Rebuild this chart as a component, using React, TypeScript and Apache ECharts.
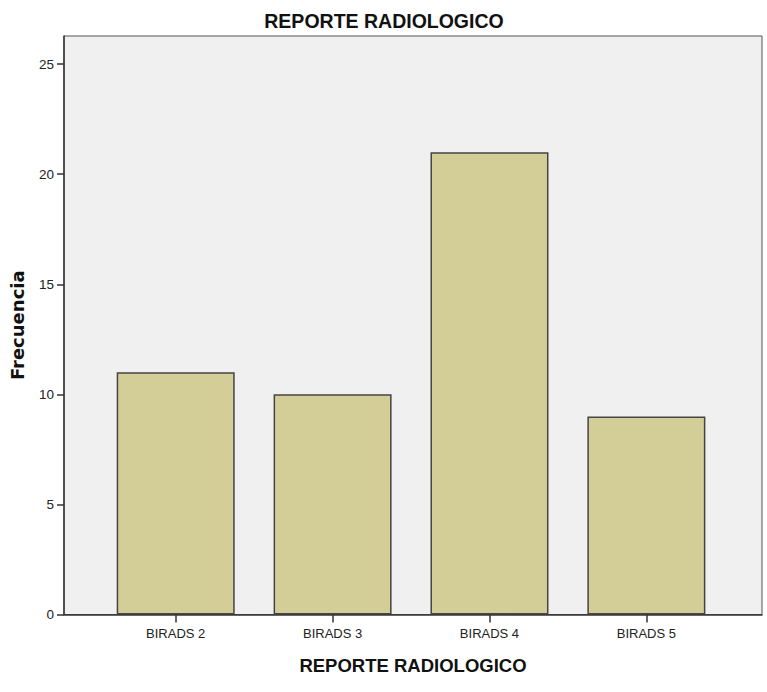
import React, { useEffect, useRef } from "react";
import * as echarts from "echarts";

const categories = ["BIRADS 2", "BIRADS 3", "BIRADS 4", "BIRADS 5"];
const frequencies = [11, 10, 21, 9];
const yTickValues = [0, 5, 10, 15, 20, 25];
const chartTitle = "REPORTE RADIOLOGICO";
const xAxisTitle = "REPORTE RADIOLOGICO";
const yAxisTitle = "Frecuencia";

export default function App() {
  const ref = useRef<HTMLDivElement>(null);

  useEffect(() => {
    if (!ref.current) return;
    const chart = echarts.init(ref.current, undefined, { renderer: "svg" });
    const positions = categories.map((_, i) => i);

    chart.setOption({
      animation: false,
      backgroundColor: "#ffffff",
      title: {
        text: chartTitle,
        left: 379,
        top: 6,
        textAlign: "center",
        textStyle: {
          fontFamily: "Liberation Sans, Arial",
          fontWeight: "bold",
          fontSize: 19.5,
          color: "#111111",
        },
      },
      grid: {
        left: 61,
        right: 5,
        top: 36,
        bottom: 77.5,
        show: true,
        backgroundColor: "#f0f0f0",
        borderColor: "#555555",
        borderWidth: 1,
      },
      xAxis: {
        type: "value",
        min: -0.712,
        max: 3.737,
        name: xAxisTitle,
        nameLocation: "middle",
        nameGap: 41,
        nameTextStyle: {
          fontFamily: "Liberation Sans, Arial",
          fontWeight: "bold",
          fontSize: 18.5,
          color: "#111111",
        },
        axisLine: { show: true, onZero: false, lineStyle: { color: "#333333", width: 1.5 } },
        axisTick: {
          show: true,
          length: 8,
          customValues: positions,
          lineStyle: { color: "#333333", width: 1.5 },
        },
        axisLabel: {
          customValues: positions,
          margin: 12,
          fontFamily: "Liberation Sans, Arial",
          fontSize: 13,
          color: "#222222",
          formatter: (v: number) => categories[Math.round(v)] ?? "",
        },
        splitLine: { show: false },
      },
      yAxis: {
        type: "value",
        min: 0,
        max: 26.28,
        name: yAxisTitle,
        nameLocation: "middle",
        nameGap: 38,
        nameTextStyle: {
          fontFamily: "DejaVu Sans",
          fontWeight: "bold",
          fontSize: 18,
          color: "#111111",
        },
        axisLine: { show: true, onZero: false, lineStyle: { color: "#333333", width: 1.5 } },
        axisTick: {
          show: true,
          length: 7,
          customValues: yTickValues,
          lineStyle: { color: "#333333", width: 1.5 },
        },
        axisLabel: {
          customValues: yTickValues,
          margin: 10,
          fontFamily: "Liberation Sans, Arial",
          fontSize: 13.5,
          color: "#222222",
        },
        splitLine: { show: false },
      },
      series: [
        {
          type: "bar",
          barWidth: 118,
          data: frequencies.map((v, i) => [positions[i], v]),
          itemStyle: {
            color: "#d3ce97",
            borderColor: "#444444",
            borderWidth: 1.5,
          },
        },
      ],
    });

    return () => chart.dispose();
  }, []);

  return <div ref={ref} style={{ width: 767, height: 692, position: "absolute", left: 0, top: 0 }} />;
}
